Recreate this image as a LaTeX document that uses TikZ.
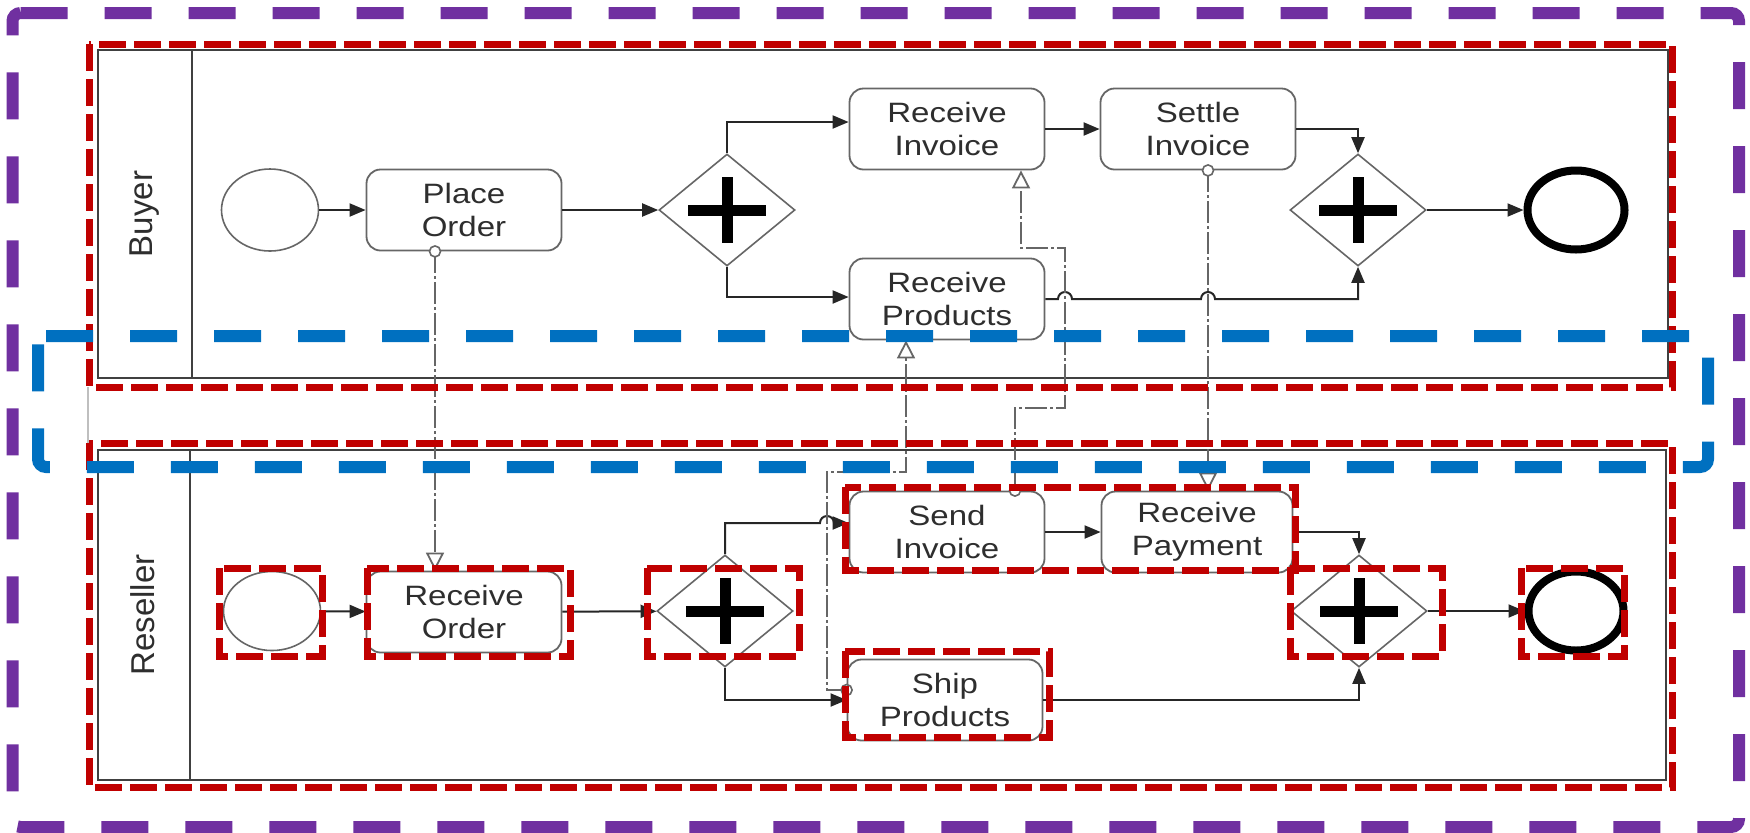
\documentclass[tikz,border=0pt]{standalone}
\usepackage{fontspec}
\setmainfont{Liberation Sans}
\newfontfamily\taskfont{Liberation Sans}[FakeStretch=1.18]
\usetikzlibrary{arrows.meta,shapes.geometric}
\definecolor{purp}{HTML}{7030A0}
\definecolor{blu}{HTML}{0070C0}
\definecolor{hlred}{HTML}{C00000}
\definecolor{ink}{HTML}{2E2E2E}
\newcommand\gwplus[1]{%
  \draw[line width=5.5pt,black] ([xshift=-19.5pt]#1.center) -- ([xshift=19.5pt]#1.center);
  \draw[line width=5.5pt,black] ([yshift=16.5pt]#1.center) -- ([yshift=-16.5pt]#1.center);}
\begin{document}
\begin{tikzpicture}[x=0.5pt,y=-0.5pt,
  task/.style={draw=black!60, line width=0.9pt, rounded corners=7pt, fill=white,
    minimum width=97.5pt, minimum height=40.5pt, inner sep=0pt, align=center,
    font=\taskfont\fontsize{14pt}{16.5pt}\selectfont, text=ink},
  startev/.style={ellipse, draw=black!60, line width=0.8pt, fill=white, inner sep=0pt,
    minimum width=48.5pt, minimum height=41pt},
  endev/.style={ellipse, draw=black, line width=4pt, fill=white, inner sep=0pt,
    minimum width=48.5pt, minimum height=39.5pt},
  gw/.style={diamond, draw=black!60, line width=0.8pt, fill=white, inner sep=0pt,
    minimum width=68pt, minimum height=56pt},
  lanelabel/.style={rotate=90, font=\fontsize{16.5pt}{18pt}\selectfont, text=ink},
  frame/.style={draw=black!75, line width=1.3pt},
  seq/.style={draw=black!85, line width=1pt, -{Triangle[length=8pt,width=6.5pt]}},
  msg/.style={draw=black!60, line width=0.9pt, dash pattern=on 11pt off 1.5pt on 1.5pt off 1.5pt,
    -{Triangle[fill=white,length=9pt,width=9pt]}},
  msgsrc/.style={draw=black!60, line width=0.8pt, fill=white},
  hl/.style={draw=hlred, line width=3.5pt, dash pattern=on 13.5pt off 4pt},
  bigdash/.style={line width=6pt, dash pattern=on 23.5pt off 18.5pt, rounded corners=4pt}
]
\useasboundingbox (0,0) rectangle (1750,832);
\fill[white] (0,0) rectangle (1750,832);

% lane frames
\draw[frame] (98,50) rectangle (1668,378);
\draw[frame] (192,50) -- (192,378);
\draw[frame] (98,450) rectangle (1666,780);
\draw[frame] (190,450) -- (190,780);
\draw[gray!50, line width=0.6pt] (88,387) -- (88,443);
\node[lanelabel] (lb) at (145,214) {Buyer};
\node[lanelabel] (lr) at (143,615) {Reseller};

% buyer nodes
\node[startev] (bs) at (270,210) {};
\node[task] (po) at (464,210) {Place\\Order};
\node[gw] (bg1) at (727,210) {};
\node[task] (ri) at (947,129) {Receive\\Invoice};
\node[task] (si) at (1198,129) {Settle\\Invoice};
\node[task] (rp) at (947,299) {Receive\\Products};
\node[gw] (bg2) at (1358,210) {};
\node[endev, minimum width=48.5pt] (be) at (1576,210) {};

% reseller nodes
\node[startev, minimum height=39.5pt] (rs) at (272,611) {};
\node[task] (ro) at (464,612) {Receive\\Order};
\node[gw] (rg1) at (725,611) {};
\node[task] (sd) at (947,532) {Send\\Invoice};
\node[task, minimum width=95.5pt] (rpay) at (1197,532) {Receive\\Payment};
\node[task] (sp) at (945,700) {Ship\\Products};
\node[gw] (rg2) at (1359,611) {};
\node[endev, minimum width=47.5pt] (re) at (1576,611) {};

\gwplus{bg1}\gwplus{bg2}\gwplus{rg1}\gwplus{rg2}

% hop x positions (message flow verticals)
\coordinate (m2x) at (1065,0);
\coordinate (m3x) at (827,0);
\coordinate (m4x) at (1208,0);
\coordinate (h2) at (m2x |- rp.east);
\coordinate (h4) at (m4x |- rp.east);
\coordinate (rgup) at (725,523);
\coordinate (h3) at (m3x |- rgup);

% buyer sequence flows
\draw[seq] (bs) -- (po);
\draw[seq] (po) -- (bg1);
\draw[seq] (bg1.north) |- ([yshift=3.5pt]ri.west);
\draw[seq] (bg1.south) |- ([yshift=1pt]rp.west);
\draw[seq] (ri) -- (si);
\draw[seq] (si.east) -| (bg2.north);
\draw[seq] (rp.east) -- ([xshift=-3.5pt]h2) arc[start angle=180,end angle=0,radius=3.5pt]
  -- ([xshift=-3.5pt]h4) arc[start angle=180,end angle=0,radius=3.5pt]
  -| (bg2.south);
\draw[seq] (bg2) -- (be);

% reseller sequence flows
\draw[seq] (rs) -- (ro);
\draw[seq] (ro) -- (rg1);
\draw[seq] (rg1.north) -- (rgup) -- ([xshift=-3.5pt]h3) arc[start angle=180,end angle=0,radius=3.5pt]
  -- (sd.west |- rgup);
\draw[seq] (rg1.south) |- (sp.west);
\draw[seq] (sd) -- (rpay);
\draw[seq] (rpay.east) -| (rg2.north);
\draw[seq] (sp.east) -| (rg2.south);
\draw[seq] (rg2) -- (re);

% message flows
\coordinate (s1) at ([xshift=-14.5pt]po.south);
\coordinate (e1) at ([xshift=-14.5pt]ro.north);
\draw[msg] (s1) -- (e1);
\draw[msgsrc] (s1) circle[radius=2.75pt];

\coordinate (s2) at ([xshift=34pt]sd.north);
\coordinate (e2) at ([xshift=37pt]ri.south);
\draw[msg] (s2) |- (m2x |- 0,408) |- (e2 |- 0,248) -- (e2);
\draw[msgsrc] (s2) circle[radius=2.75pt];

\coordinate (s3) at ([yshift=5pt]sp.west);
\coordinate (e3) at ([xshift=-20.5pt]rp.south);
\draw[msg] (s3) -| (m3x |- 0,472) -| (e3);
\draw[msgsrc] (s3) circle[radius=2.75pt];

\coordinate (s4) at (m4x |- si.south);
\coordinate (e4) at (m4x |- rpay.north);
\draw[msg] (s4) -- (e4);
\draw[msgsrc] (s4) circle[radius=2.75pt];

% red highlight boxes
\draw[hl] (89,44) rectangle (1672,387);
\draw[hl] (89,443) rectangle (1672,787);
\draw[hl] (219,568) rectangle (322,656);
\draw[hl] (367,568) rectangle (570,656);
\draw[hl] (647,568) rectangle (799,656);
\draw[hl] (845,487) rectangle (1295,570);
\draw[hl] (845,651) rectangle (1049,737);
\draw[hl] (1290,568) rectangle (1442,656);
\draw[hl] (1521,568) rectangle (1624,656);

% blue and purple dashed frames
\draw[bigdash, draw=blu] (38,336) -- (1708,336) -- (1708,467) -- (38,467) -- cycle;
\draw[bigdash, draw=purp] (12.5,13) -- (1739,13) -- (1739,827) -- (12.5,827) -- cycle;
\end{tikzpicture}
\end{document}
